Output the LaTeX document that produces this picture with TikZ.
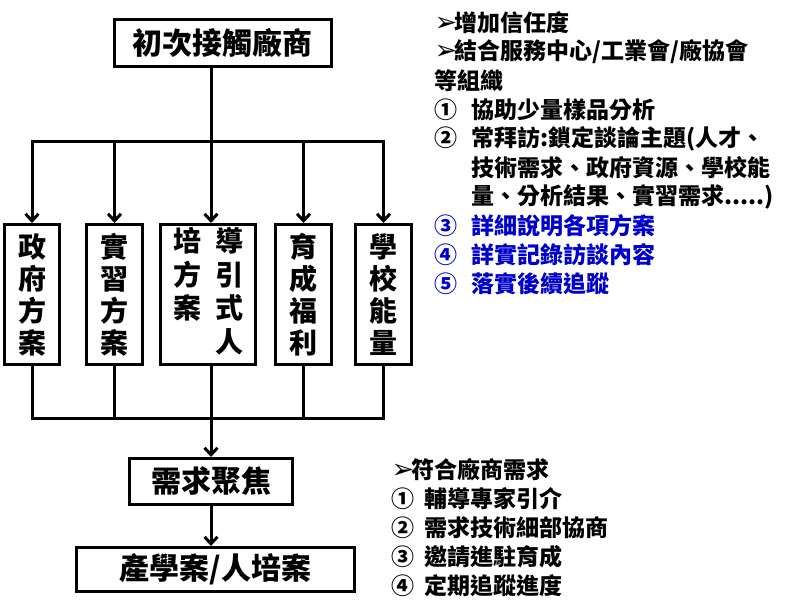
\documentclass[tikz,border=0pt]{standalone}
\usepackage{fontspec}
\setmainfont{Noto Sans CJK TC}
\newfontfamily\symfont{DejaVu Sans}
\usetikzlibrary{arrows.meta}
\definecolor{itemblue}{RGB}{0,0,204}
\newcommand{\pointer}{\makebox[20pt][l]{\symfont\fontsize{27}{27}\selectfont ➢}}
\newcommand{\itemnum}[1]{\makebox[37pt][l]{#1}}

\begin{document}
\begin{tikzpicture}[x=1pt, y=-1pt, line width=3pt,
        >={Straight Barb[length=7pt,width=13pt]},
        box/.style={draw, line width=3pt, inner sep=0pt, font=\bfseries\fontsize{30}{30}\selectfont},
        vbox/.style={box, minimum width=56pt, minimum height=140pt, align=center, font=\bfseries\fontsize{28}{32}\selectfont},
        note/.style={anchor=west, inner sep=0pt, font=\bfseries\fontsize{23}{23}\selectfont}]

        \useasboundingbox (0,0) rectangle (796,605);

        % Oben
        \node[box, minimum width=217pt, minimum height=47pt] at (222.5,43) (first) {初次接觸廠商};

        % Fünf Kästen
        \node[vbox, minimum width=55pt] at (32,294.5) (gov) {政\\府\\方\\案};
        \node[vbox] at (114.5,294.5) (intern) {實\\習\\方\\案};
        \node[vbox, minimum width=95pt] at (208,294.5) (guide) {\begin{tabular}{@{}c@{\hspace{14pt}}c@{}}培&導\\方&引\\案&式\\&人\end{tabular}};
        \node[vbox] at (303.5,294.5) (incub) {育\\成\\福\\利};
        \node[vbox] at (383.5,294.5) (school) {學\\校\\能\\量};

        % Unten
        \node[box, minimum width=163pt, minimum height=46pt] at (211,481.5) (need) {需求聚焦};
        \node[box, minimum width=278pt, minimum height=44pt] at (215.5,569.5) (result) {產學案/人培案};

        % Verzweigungen
        \coordinate (split) at (211,141);
        \coordinate (join) at (211,418);

        % Pfeile oben
        \draw (first.south -| split) -- (split);
        \draw[line cap=rect] (gov.north |- split) -- (school.north |- split);
        \foreach \b in {gov,intern,incub,school}
            \draw[->] (\b.north |- split) -- (\b.north);
        \draw[->] (split) -- (split |- guide.north);

        % Linien unten
        \draw (gov.south) -- (gov.south |- join) -- (school.south |- join) -- (school.south);
        \foreach \b in {intern,incub}
            \draw (\b.south) -- (\b.south |- join);
        \draw (split |- guide.south) -- (join);
        \draw[->] (join) -- (join |- need.north);
        \draw[->] (need.south) -- (need.south |- result.north);

        % Text rechts oben
        \node[note] at (433,23) (trust) {\pointer 增加信任度};
        \node[note] at (433,52) (unite) {\pointer 結合服務中心/工業會/廠協會};
        \node[note] at (433,81) (org) {等組織};
        \node[note] at (433,110) (t1) {\itemnum{①}協助少量樣品分析};
        \node[note] at (433,139) (t2) {\itemnum{②}常拜訪:鎖定談論主題(人才、};
        \node[note] at (470,168) (t2b) {技術需求、政府資源、學校能};
        \node[note] at (470,197) (t2c) {量、分析結果、實習需求.....)};
        \node[note, text=itemblue] at (433,226) (t3) {\itemnum{③}詳細說明各項方案};
        \node[note, text=itemblue] at (433,255) (t4) {\itemnum{④}詳實記錄訪談內容};
        \node[note, text=itemblue] at (433,284) (t5) {\itemnum{⑤}落實後續追蹤};

        % Text rechts unten
        \node[note] at (390,470) (fit) {\pointer 符合廠商需求};
        \node[note] at (390,499) (b1) {\makebox[33pt][l]{①}輔導專家引介};
        \node[note] at (390,528) (b2) {\makebox[33pt][l]{②}需求技術細部協商};
        \node[note] at (390,557) (b3) {\makebox[33pt][l]{③}邀請進駐育成};
        \node[note] at (390,586) (b4) {\makebox[33pt][l]{④}定期追蹤進度};

    \end{tikzpicture}
\end{document}
